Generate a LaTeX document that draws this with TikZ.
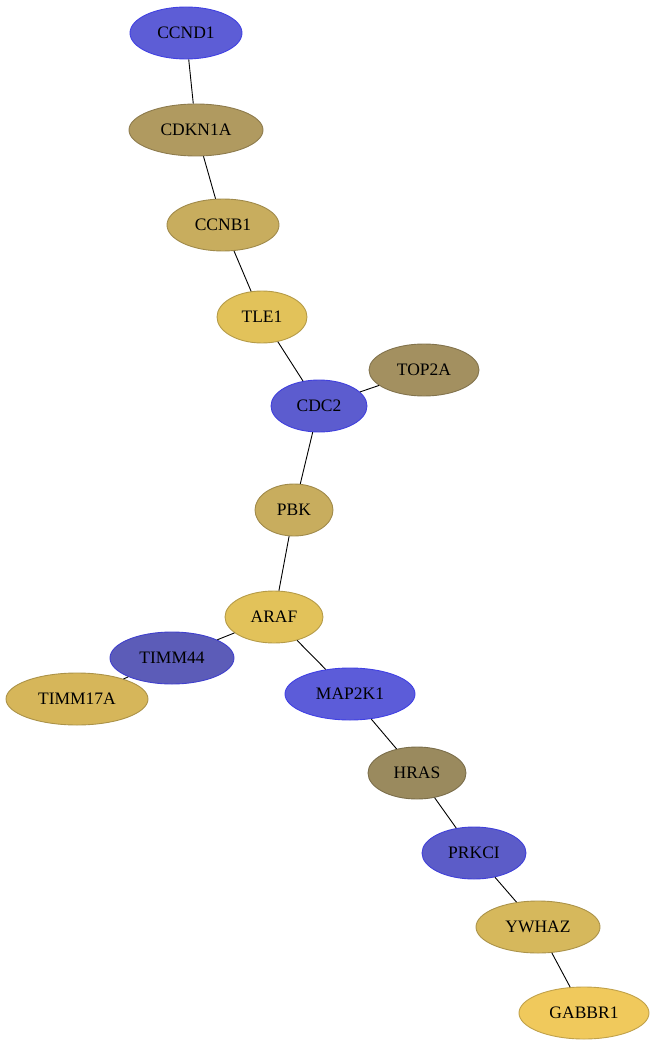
\documentclass[tikz,border=0pt]{standalone}
\usepackage{fontspec}
\setmainfont{Liberation Serif}
\usetikzlibrary{shapes.geometric}
\definecolor{cBlueA}{RGB}{93,93,214}
\definecolor{cBlueB}{RGB}{92,92,184}
\definecolor{cBlueC}{RGB}{92,92,200}
\definecolor{cBlueD}{RGB}{92,92,217}
\definecolor{cBlueE}{RGB}{92,92,207}
\definecolor{cKhakiA}{RGB}{176,154,96}
\definecolor{cKhakiB}{RGB}{163,144,96}
\definecolor{cKhakiC}{RGB}{154,138,94}
\definecolor{cGoldA}{RGB}{200,173,94}
\definecolor{cGoldB}{RGB}{226,194,90}
\definecolor{cGoldC}{RGB}{214,182,90}
\definecolor{cGoldD}{RGB}{214,184,92}
\definecolor{cGoldE}{RGB}{240,201,92}
\tikzset{
  gene/.style={ellipse, inner sep=0pt, minimum height=52pt, line width=0.9pt,
    font=\fontsize{17.5}{20}\selectfont, text=black},
  gb/.style={gene, fill=#1, draw=#1!70!blue},
  gk/.style={gene, fill=#1, draw=#1!80!black},
  link/.style={draw=black, line width=0.9pt}
}
\begin{document}
\begin{tikzpicture}[x=1pt,y=-1pt]
\useasboundingbox (0,0) rectangle (656,1048);
\node[gb=cBlueA, minimum width=112pt] (CCND1) at (186,33) {CCND1};
\node[gk=cKhakiA, minimum width=134pt] (CDKN1A) at (196,130) {CDKN1A};
\node[gk=cGoldA, minimum width=112pt] (CCNB1) at (223,225) {CCNB1};
\node[gk=cGoldB, minimum width=90pt] (TLE1) at (262,317) {TLE1};
\node[gk=cKhakiB, minimum width=110pt] (TOP2A) at (424,370) {TOP2A};
\node[gb=cBlueE, minimum width=96pt] (CDC2) at (319,406) {CDC2};
\node[gk=cGoldA, minimum width=78pt] (PBK) at (294,510) {PBK};
\node[gk=cGoldB, minimum width=98pt] (ARAF) at (274,617) {ARAF};
\node[gb=cBlueB, minimum width=124pt] (TIMM44) at (172,658) {TIMM44};
\node[gk=cGoldC, minimum width=142pt] (TIMM17A) at (77,699) {TIMM17A};
\node[gb=cBlueD, minimum width=130pt] (MAP2K1) at (350,694) {MAP2K1};
\node[gk=cKhakiC, minimum width=98pt] (HRAS) at (417,773) {HRAS};
\node[gb=cBlueC, minimum width=104pt] (PRKCI) at (474,853) {PRKCI};
\node[gk=cGoldD, minimum width=124pt] (YWHAZ) at (538,927) {YWHAZ};
\node[gk=cGoldE, minimum width=130pt] (GABBR1) at (584,1013) {GABBR1};
\draw[link] (CCND1) -- (CDKN1A);
\draw[link] (CDKN1A) -- (CCNB1);
\draw[link] (CCNB1) -- (TLE1);
\draw[link] (TLE1) -- (CDC2);
\draw[link] (CDC2) -- (TOP2A);
\draw[link] (CDC2) -- (PBK);
\draw[link] (PBK) -- (ARAF);
\draw[link] (ARAF) -- (TIMM44);
\draw[link] (TIMM44) -- (TIMM17A);
\draw[link] (ARAF) -- (MAP2K1);
\draw[link] (MAP2K1) -- (HRAS);
\draw[link] (HRAS) -- (PRKCI);
\draw[link] (PRKCI) -- (YWHAZ);
\draw[link] (YWHAZ) -- (GABBR1);
\end{tikzpicture}
\end{document}
